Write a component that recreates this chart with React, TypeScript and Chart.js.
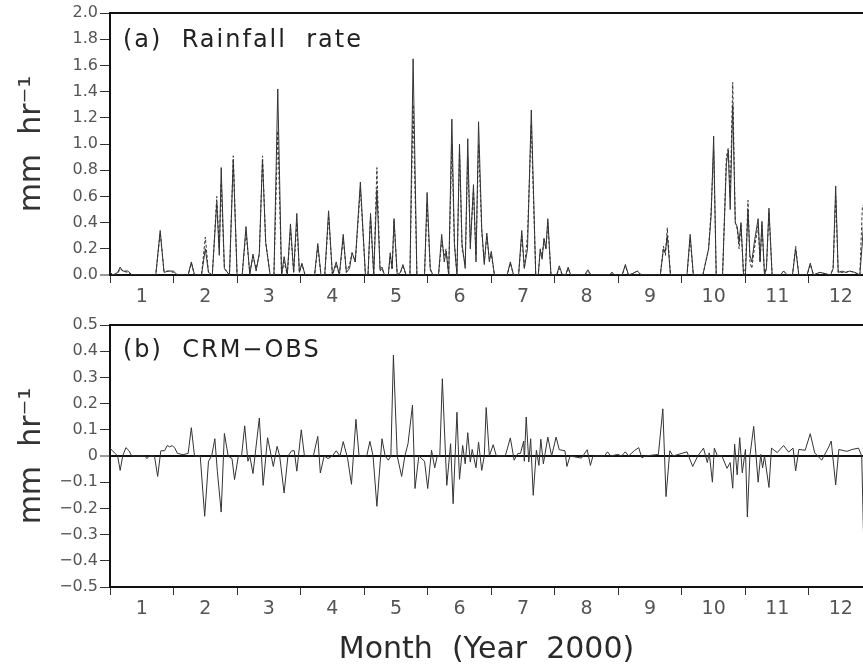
import React, { useEffect, useRef } from "react";
import { Chart, registerables } from "chart.js";

Chart.register(...registerables);

// ---------- data ----------
const monthLabels = ["1", "2", "3", "4", "5", "6", "7", "8", "9", "10", "11", "12"];
const X_MAX = 11.85; // axis is cut off at the right edge of the figure

// Panel (a): time in months since 1 Jan 2000, rainfall rate (mm/hr)
const rainT = [
  0.0, 0.05, 0.12, 0.16, 0.2, 0.28, 0.35, 0.72, 0.79, 0.85, 0.92, 1.0, 1.06, 1.23, 1.28, 1.33,
  1.44, 1.5, 1.55, 1.61, 1.68, 1.72, 1.75, 1.8, 1.88, 1.94, 2.0, 2.08, 2.14, 2.2, 2.25, 2.3,
  2.35, 2.4, 2.45, 2.52, 2.58, 2.64, 2.7, 2.74, 2.79, 2.84, 2.89, 2.94, 2.98, 3.02, 3.07, 3.22,
  3.27, 3.32, 3.38, 3.44, 3.5, 3.56, 3.61, 3.67, 3.72, 3.77, 3.81, 3.86, 3.94, 4.02, 4.06, 4.1,
  4.15, 4.2, 4.25, 4.28, 4.32, 4.38, 4.41, 4.44, 4.47, 4.52, 4.57, 4.61, 4.66, 4.72, 4.77, 4.83,
  4.95, 4.99, 5.04, 5.08, 5.17, 5.22, 5.26, 5.29, 5.33, 5.38, 5.42, 5.46, 5.5, 5.54, 5.59, 5.63,
  5.67, 5.72, 5.76, 5.8, 5.85, 5.89, 5.93, 5.97, 6.0, 6.05, 6.25, 6.3, 6.35, 6.43, 6.48, 6.52,
  6.57, 6.63, 6.7, 6.74, 6.77, 6.8, 6.83, 6.86, 6.89, 6.94, 7.03, 7.07, 7.12, 7.17, 7.21, 7.25,
  7.47, 7.52, 7.57, 7.86, 7.9, 7.94, 8.06, 8.11, 8.16, 8.22, 8.3, 8.36, 8.66, 8.71, 8.74, 8.77,
  8.82, 9.08, 9.13, 9.18, 9.33, 9.42, 9.46, 9.5, 9.54, 9.64, 9.7, 9.73, 9.76, 9.8, 9.84, 9.87,
  9.9, 9.93, 9.97, 10.0, 10.04, 10.07, 10.1, 10.14, 10.2, 10.23, 10.26, 10.3, 10.33, 10.37, 10.42, 10.55,
  10.6, 10.66, 10.74, 10.79, 10.84, 10.97, 11.02, 11.07, 11.17, 11.26, 11.34, 11.38, 11.42, 11.46, 11.52, 11.58,
  11.64, 11.72, 11.8, 11.84, 11.87,
];
const rainObs = [
  0.02, 0.0, 0.02, 0.06, 0.03, 0.03, 0.0, 0.0, 0.34, 0.02, 0.03, 0.03, 0.0, 0.0, 0.1, 0.0,
  0.0, 0.2, 0.02, 0.0, 0.55, 0.15, 0.82, 0.05, 0.0, 0.88, 0.0, 0.0, 0.37, 0.0, 0.16, 0.03,
  0.17, 0.88, 0.25, 0.0, 0.0, 1.42, 0.0, 0.14, 0.0, 0.39, 0.02, 0.47, 0.02, 0.09, 0.0, 0.0,
  0.24, 0.0, 0.0, 0.49, 0.0, 0.1, 0.0, 0.31, 0.02, 0.05, 0.17, 0.1, 0.71, 0.0, 0.0, 0.47,
  0.0, 0.65, 0.04, 0.06, 0.0, 0.0, 0.17, 0.05, 0.43, 0.0, 0.02, 0.08, 0.0, 0.0, 1.65, 0.0,
  0.0, 0.63, 0.05, 0.0, 0.0, 0.31, 0.1, 0.18, 0.0, 1.19, 0.24, 0.0, 1.0, 0.24, 0.05, 1.04,
  0.2, 0.69, 0.1, 1.17, 0.36, 0.08, 0.32, 0.1, 0.18, 0.0, 0.0, 0.1, 0.0, 0.0, 0.34, 0.05,
  0.2, 1.26, 0.0, 0.0, 0.2, 0.12, 0.28, 0.2, 0.43, 0.0, 0.0, 0.07, 0.0, 0.0, 0.06, 0.0,
  0.0, 0.04, 0.0, 0.0, 0.02, 0.0, 0.0, 0.08, 0.0, 0.01, 0.03, 0.0, 0.0, 0.2, 0.18, 0.3,
  0.0, 0.0, 0.31, 0.0, 0.0, 0.2, 0.45, 1.06, 0.0, 0.0, 0.85, 0.95, 0.5, 1.3, 0.4, 0.37,
  0.25, 0.4, 0.0, 0.0, 0.5, 0.15, 0.1, 0.25, 0.43, 0.1, 0.41, 0.0, 0.05, 0.51, 0.0, 0.0,
  0.03, 0.0, 0.0, 0.2, 0.0, 0.0, 0.09, 0.0, 0.02, 0.01, 0.0, 0.05, 0.68, 0.02, 0.03, 0.02,
  0.03, 0.02, 0.0, 0.25, 0.5,
];
const rainCrm = [
  0.02, 0.0, 0.01, 0.05, 0.03, 0.02, 0.0, 0.0, 0.32, 0.03, 0.03, 0.02, 0.0, 0.0, 0.09, 0.0,
  0.0, 0.29, 0.02, 0.0, 0.6, 0.2, 0.7, 0.05, 0.0, 0.91, 0.0, 0.0, 0.33, 0.02, 0.14, 0.05,
  0.15, 0.91, 0.25, 0.0, 0.0, 1.1, 0.0, 0.1, 0.0, 0.35, 0.02, 0.4, 0.02, 0.08, 0.0, 0.0,
  0.22, 0.0, 0.0, 0.45, 0.0, 0.08, 0.0, 0.28, 0.02, 0.08, 0.17, 0.1, 0.66, 0.0, 0.0, 0.44,
  0.0, 0.82, 0.03, 0.05, 0.0, 0.0, 0.15, 0.04, 0.41, 0.0, 0.02, 0.06, 0.0, 0.0, 1.3, 0.0,
  0.0, 0.55, 0.04, 0.0, 0.0, 0.26, 0.15, 0.2, 0.0, 1.0, 0.24, 0.0, 0.95, 0.2, 0.08, 0.9,
  0.25, 0.64, 0.15, 1.0, 0.33, 0.1, 0.3, 0.12, 0.16, 0.0, 0.0, 0.09, 0.0, 0.0, 0.3, 0.05,
  0.3, 1.15, 0.0, 0.0, 0.18, 0.15, 0.27, 0.2, 0.4, 0.0, 0.0, 0.05, 0.0, 0.0, 0.05, 0.0,
  0.0, 0.03, 0.0, 0.0, 0.02, 0.0, 0.0, 0.07, 0.0, 0.01, 0.03, 0.0, 0.0, 0.22, 0.15, 0.36,
  0.0, 0.0, 0.28, 0.0, 0.0, 0.2, 0.5, 0.95, 0.0, 0.0, 0.9, 0.97, 0.6, 1.47, 0.4, 0.35,
  0.2, 0.38, 0.0, 0.05, 0.57, 0.1, 0.05, 0.2, 0.38, 0.1, 0.38, 0.0, 0.05, 0.48, 0.0, 0.0,
  0.03, 0.0, 0.0, 0.22, 0.0, 0.0, 0.08, 0.0, 0.02, 0.01, 0.0, 0.05, 0.6, 0.02, 0.02, 0.02,
  0.03, 0.02, 0.0, 0.52, 0.55,
];

// Panel (b): CRM - OBS (mm/hr)
const diffT = [
  0.0, 0.04, 0.08, 0.12, 0.16, 0.2, 0.25, 0.3, 0.34, 0.55, 0.58, 0.62, 0.7, 0.75, 0.8, 0.86,
  0.9, 0.94, 0.98, 1.02, 1.06, 1.15, 1.23, 1.28, 1.33, 1.42, 1.49, 1.55, 1.6, 1.65, 1.69, 1.75,
  1.8, 1.86, 1.92, 1.96, 2.02, 2.07, 2.12, 2.17, 2.2, 2.25, 2.35, 2.41, 2.48, 2.57, 2.63, 2.67,
  2.74, 2.8, 2.86, 2.9, 2.94, 3.01, 3.06, 3.2, 3.27, 3.31, 3.37, 3.43, 3.5, 3.56, 3.62, 3.67,
  3.74, 3.8, 3.87, 3.92, 4.04, 4.09, 4.14, 4.2, 4.28, 4.33, 4.38, 4.42, 4.46, 4.52, 4.59, 4.64,
  4.69, 4.76, 4.8, 4.86, 4.95, 5.0, 5.06, 5.11, 5.15, 5.19, 5.23, 5.3, 5.36, 5.4, 5.46, 5.5,
  5.55, 5.59, 5.63, 5.67, 5.7, 5.76, 5.8, 5.85, 5.89, 5.92, 5.97, 6.03, 6.08, 6.17, 6.22, 6.3,
  6.36, 6.42, 6.46, 6.51, 6.52, 6.55, 6.59, 6.62, 6.66, 6.71, 6.75, 6.78, 6.82, 6.89, 6.95, 7.02,
  7.07, 7.16, 7.19, 7.24, 7.42, 7.51, 7.56, 7.6, 7.78, 7.83, 7.88, 7.99, 8.05, 8.11, 8.16, 8.25,
  8.32, 8.37, 8.42, 8.63, 8.7, 8.75, 8.81, 8.86, 9.08, 9.17, 9.25, 9.34, 9.4, 9.43, 9.48, 9.51,
  9.56, 9.63, 9.71, 9.76, 9.8, 9.83, 9.87, 9.91, 9.95, 10.0, 10.03, 10.07, 10.13, 10.2, 10.24, 10.27,
  10.3, 10.37, 10.41, 10.5, 10.6, 10.68, 10.75, 10.79, 10.84, 10.94, 11.02, 11.09, 11.2, 11.31, 11.35, 11.42,
  11.47, 11.55, 11.6, 11.68, 11.78, 11.83, 11.86,
];
const diffV = [
  0.03, 0.02, 0.01, 0.0, -0.055, 0.0, 0.032, 0.02, 0.0, 0.0, -0.01, 0.0, 0.0, -0.078, 0.02, 0.02,
  0.04, 0.035, 0.04, 0.03, 0.01, 0.005, 0.01, 0.108, 0.0, 0.0, -0.23, -0.02, 0.0, 0.066, -0.06, -0.214,
  0.086, 0.0, -0.01, -0.09, 0.0, 0.0, 0.115, -0.02, 0.0, -0.067, 0.145, -0.112, 0.07, -0.04, 0.037, 0.0,
  -0.141, 0.0, 0.02, 0.02, -0.058, 0.1, 0.0, 0.0, 0.075, -0.065, 0.0, -0.01, 0.0, 0.02, 0.0, 0.055,
  -0.01, -0.108, 0.14, 0.0, 0.0, 0.056, 0.0, -0.192, 0.066, 0.0, -0.016, 0.0, 0.385, 0.0, -0.078, 0.0,
  0.047, 0.194, -0.124, 0.0, -0.02, -0.124, 0.022, -0.045, 0.0, 0.0, 0.295, -0.112, 0.047, -0.182, 0.167, -0.089,
  0.04, -0.03, 0.089, -0.023, 0.025, -0.045, 0.053, -0.055, 0.0, 0.185, 0.0, 0.043, 0.0, 0.0, 0.0, 0.069,
  -0.016, 0.01, 0.01, 0.057, -0.02, 0.149, -0.023, 0.066, -0.15, 0.022, -0.036, 0.064, -0.03, 0.072, 0.0, 0.072,
  0.024, 0.02, -0.04, 0.0, -0.008, 0.024, -0.036, 0.0, 0.0, 0.016, 0.0, 0.006, 0.0, 0.016, 0.0, 0.02,
  0.032, -0.007, 0.0, 0.006, 0.18, -0.155, 0.02, 0.0, 0.016, -0.04, 0.0, 0.03, -0.025, 0.012, -0.1, 0.03,
  0.0, 0.0, -0.047, -0.025, -0.123, 0.045, -0.072, 0.07, -0.064, 0.025, -0.233, 0.0, 0.113, -0.1, 0.006, -0.045,
  0.0, -0.12, 0.03, 0.013, 0.04, 0.015, 0.03, -0.057, 0.025, 0.022, 0.085, 0.012, -0.016, 0.034, 0.057, -0.11,
  0.025, 0.02, 0.018, 0.025, 0.03, 0.0, -0.32,
];

// x ticks: month boundaries (marks) and mid-months (labels)
const xTickValues: number[] = [];
for (let i = 0; i < 12; i++) {
  xTickValues.push(i);
  xTickValues.push(i + 0.5);
}

// ---------- styling ----------
const FONT = "'DejaVu Sans', sans-serif";
const isHalf = (v: number) => Math.round(v * 2) % 2 === 1;

function makeXScale(height: number, withTitle: boolean) {
  return {
    type: "linear",
    min: 0,
    max: X_MAX,
    afterBuildTicks: (s: any) => {
      s.ticks = xTickValues.filter((v) => v <= X_MAX).map((v) => ({ value: v }));
    },
    afterFit: (s: any) => {
      s.height = height;
    },
    ticks: {
      autoSkip: false,
      maxRotation: 0,
      minRotation: 0,
      padding: 3,
      color: "#555",
      font: { family: FONT, size: 19, lineHeight: 1.2 },
      callback: (v: any) => (isHalf(Number(v)) ? monthLabels[Math.floor(Number(v))] : ""),
    },
    grid: {
      drawOnChartArea: false,
      drawTicks: true,
      tickLength: 8,
      tickWidth: 1,
      tickColor: (c: any) => (c.tick && isHalf(c.tick.value) ? "rgba(0,0,0,0)" : "#333"),
    },
    border: { display: true, width: 2, color: "#111" },
    title: withTitle
      ? {
          display: true,
          text: "Month  (Year  2000)",
          color: "#2a2a2a",
          font: { family: FONT, size: 30, lineHeight: 1 },
          padding: { top: 0, bottom: 4 },
        }
      : { display: false },
  };
}

function makeYScale(min: number, max: number, step: number, fmt: (v: number) => string, zeroLine: boolean) {
  return {
    type: "linear",
    min,
    max,
    afterFit: (s: any) => {
      s.width = 110;
    },
    ticks: {
      stepSize: step,
      padding: 2,
      color: "#555",
      font: { family: FONT, size: 16, lineHeight: 1.2 },
      callback: (v: any) => fmt(Number(v)),
    },
    grid: {
      drawOnChartArea: zeroLine,
      tickLength: 10,
      tickWidth: 1,
      tickColor: "#333",
      color: (c: any) => (c.tick && Math.abs(c.tick.value) < 1e-9 ? "#111" : "rgba(0,0,0,0)"),
      lineWidth: (c: any) => (c.tick && Math.abs(c.tick.value) < 1e-9 ? 2 : 1),
    },
    border: { display: true, width: 2, color: "#111" },
    title: {
      display: true,
      text: "mm  hr\u207B\u00B9",
      color: "#333",
      font: { family: FONT, size: 30, lineHeight: 1 },
      padding: { top: 17, bottom: 0 },
    },
  };
}

const topFrame = {
  id: "topFrame",
  afterDraw(chart: any) {
    const { ctx, chartArea } = chart;
    ctx.save();
    ctx.strokeStyle = "#111";
    ctx.lineWidth = 2;
    ctx.beginPath();
    ctx.moveTo(chartArea.left - 1, chartArea.top);
    ctx.lineTo(chartArea.right, chartArea.top);
    ctx.stroke();
    ctx.restore();
  },
};

function panelLabel(text: string, dy: number) {
  return {
    id: "panelLabel",
    afterDraw(chart: any) {
      const { ctx, chartArea } = chart;
      ctx.save();
      ctx.font = `24px ${FONT}`;
      ctx.fillStyle = "#222";
      ctx.textBaseline = "alphabetic";
      ctx.textAlign = "left";
      (ctx as any).letterSpacing = "2px";
      ctx.fillText(text, chartArea.left + 13, chartArea.top + dy);
      ctx.restore();
    },
  };
}

const fmtA = (v: number) => v.toFixed(1);
const fmtB = (v: number) => {
  if (Math.abs(v) < 1e-9) return "0";
  return v < 0 ? "\u2212" + Math.abs(v).toFixed(1) : v.toFixed(1);
};

export default function App() {
  const refA = useRef<HTMLCanvasElement | null>(null);
  const refB = useRef<HTMLCanvasElement | null>(null);

  useEffect(() => {
    const lineStyle = { borderColor: "#333", borderWidth: 1, pointRadius: 0, tension: 0, fill: false };
    const chartA = new Chart(refA.current as HTMLCanvasElement, {
      type: "line",
      data: {
        datasets: [
          { label: "OBS", data: rainT.map((t, i) => ({ x: t, y: rainObs[i] })), ...lineStyle },
          { label: "CRM", data: rainT.map((t, i) => ({ x: t, y: rainCrm[i] })), ...lineStyle, borderDash: [3, 2] },
        ],
      },
      options: {
        responsive: false,
        maintainAspectRatio: false,
        devicePixelRatio: 1,
        animation: false,
        layout: { padding: { top: 13, left: 0, right: 0, bottom: 0 } },
        plugins: { legend: { display: false }, tooltip: { enabled: false } },
        scales: {
          x: makeXScale(35, false),
          y: makeYScale(0, 2, 0.2, fmtA, false),
        },
      } as any,
      plugins: [topFrame, panelLabel("(a)  Rainfall  rate", 34)],
    });

    const chartB = new Chart(refB.current as HTMLCanvasElement, {
      type: "line",
      data: {
        datasets: [{ label: "CRM-OBS", data: diffT.map((t, i) => ({ x: t, y: diffV[i] })), ...lineStyle }],
      },
      options: {
        responsive: false,
        maintainAspectRatio: false,
        devicePixelRatio: 1,
        animation: false,
        layout: { padding: { top: 15, left: 0, right: 0, bottom: 0 } },
        plugins: { legend: { display: false }, tooltip: { enabled: false } },
        scales: {
          x: makeXScale(82, true),
          y: makeYScale(-0.5, 0.5, 0.1, fmtB, true),
        },
      } as any,
      plugins: [topFrame, panelLabel("(b)  CRM\u2212OBS", 32)],
    });

    return () => {
      chartA.destroy();
      chartB.destroy();
    };
  }, []);

  return (
    <div style={{ position: "absolute", left: 0, top: 0, width: 863, height: 669, background: "#fff", overflow: "hidden" }}>
      <canvas
        ref={refA}
        width={863}
        height={310}
        style={{ position: "absolute", left: 0, top: 0, width: 863, height: 310 }}
      />
      <canvas
        ref={refB}
        width={863}
        height={359}
        style={{ position: "absolute", left: 0, top: 310, width: 863, height: 359 }}
      />
    </div>
  );
}
